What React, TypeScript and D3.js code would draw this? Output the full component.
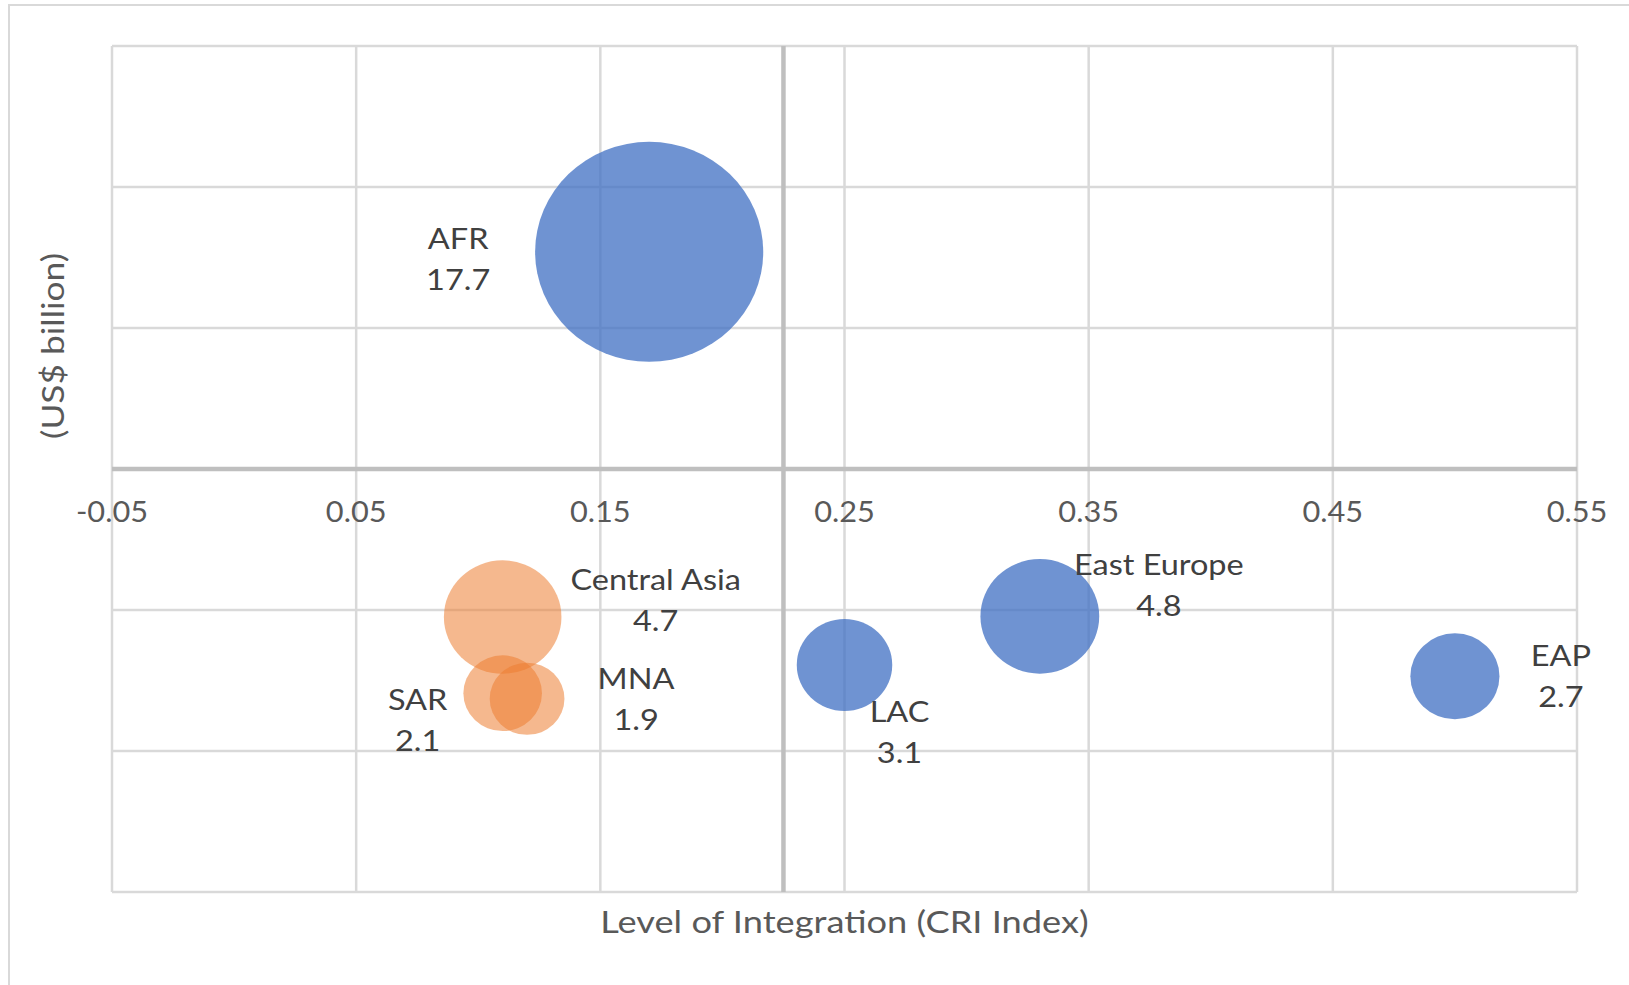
import React from "react";
import * as d3 from "d3";

// ---- data ----
const regions = ["AFR", "Central Asia", "SAR", "MNA", "LAC", "East Europe", "EAP"];
const criIndex = [0.17, 0.11, 0.11, 0.12, 0.25, 0.33, 0.5];
const yValues = [1.54, -1.05, -1.59, -1.63, -1.39, -1.045, -1.47];
const volumes = [17.7, 4.7, 2.1, 1.9, 3.1, 4.8, 2.7];
const groups = ["blue", "orange", "orange", "orange", "blue", "blue", "blue"];
const xTicks = [-0.05, 0.05, 0.15, 0.25, 0.35, 0.45, 0.55];
const yGrid = [-3, -2, -1, 0, 1, 2, 3];
const xTitle = "Level of Integration (CRI Index)";
const yTitle = "(US$ billion)";

// label offsets (px, relative to bubble centre): [dx, dy first line]
const labelOffsets: [number, number][] = [
  [-191, -14],
  [153, -38],
  [-85, 6],
  [109, -21],
  [55, 46],
  [119, -52],
  [106, -21],
];

const W = 1629;
const H = 985;
const plot = { left: 112, right: 1577, top: 46, bottom: 892 };
const yAxisCross = 0.225;

const colors: Record<string, { fill: string; op: number }> = {
  blue: { fill: "#4472C4", op: 0.77 },
  orange: { fill: "#ED7D31", op: 0.55 },
};

const font = "Lato, 'Open Sans', sans-serif";

function SText({
  x,
  y,
  sx,
  size,
  fill,
  rotate = 0,
  children,
}: {
  x: number;
  y: number;
  sx: number;
  size: number;
  fill: string;
  rotate?: number;
  children: React.ReactNode;
}) {
  return (
    <text
      transform={`translate(${x},${y}) rotate(${rotate}) scale(${sx},1)`}
      textAnchor="middle"
      dominantBaseline="central"
      fontSize={size}
      fill={fill}
    >
      {children}
    </text>
  );
}

export default function App() {
  const x = d3.scaleLinear().domain([-0.05, 0.55]).range([plot.left, plot.right]);
  const y = d3.scaleLinear().domain([-3, 3]).range([plot.bottom, plot.top]);
  const r = d3.scaleSqrt().domain([0, 17.7]).range([0, 110]);
  const aspect = 1.037;
  const lineGap = 41;

  return (
    <svg
      width={W}
      height={H}
      style={{ position: "absolute", left: 0, top: 0, background: "#fff" }}
      fontFamily={font}
    >
      <rect x={0} y={0} width={W} height={H} fill="#fff" />
      {/* outer chart border */}
      <rect x={9} y={5} width={W + 20} height={H + 20} fill="none" stroke="#D9D9D9" strokeWidth={2} />

      {/* gridlines */}
      {xTicks.map((t) => (
        <line key={"gx" + t} x1={x(t)} x2={x(t)} y1={plot.top} y2={plot.bottom} stroke="#D9D9D9" strokeWidth={2.5} />
      ))}
      {yGrid.map((t) => (
        <line key={"gy" + t} x1={plot.left} x2={plot.right} y1={y(t)} y2={y(t)} stroke="#D9D9D9" strokeWidth={2.5} />
      ))}

      {/* axes */}
      <line x1={plot.left} x2={plot.right} y1={y(0)} y2={y(0)} stroke="#BFBFBF" strokeWidth={4.5} />
      <line x1={x(yAxisCross)} x2={x(yAxisCross)} y1={plot.top} y2={plot.bottom} stroke="#BFBFBF" strokeWidth={4.5} />

      {/* tick labels */}
      {xTicks.map((t) => (
        <SText key={"tx" + t} x={x(t)} y={y(0) + 42} sx={1.06} size={29} fill="#595959">
          {d3.format(".2f")(t).replace("−", "-")}
        </SText>
      ))}

      {/* bubbles */}
      {regions.map((name, i) => {
        const c = colors[groups[i]];
        const rr = r(volumes[i]);
        return (
          <ellipse
            key={"b" + name}
            cx={x(criIndex[i])}
            cy={y(yValues[i])}
            rx={rr * aspect}
            ry={rr}
            fill={c.fill}
            fillOpacity={c.op}
          />
        );
      })}

      {/* data labels */}
      {regions.map((name, i) => {
        const cx = x(criIndex[i]) + labelOffsets[i][0];
        const cy = y(yValues[i]) + labelOffsets[i][1];
        return (
          <g key={"l" + name}>
            <SText x={cx} y={cy} sx={1.16} size={28} fill="#404040">{name}</SText>
            <SText x={cx} y={cy + lineGap} sx={1.16} size={28} fill="#404040">
              {volumes[i].toFixed(1)}
            </SText>
          </g>
        );
      })}

      {/* axis titles */}
      <SText x={(plot.left + plot.right) / 2} y={921} sx={1.15} size={31.5} fill="#595959">
        {xTitle}
      </SText>
      <SText x={52} y={346} sx={1.14} size={31} fill="#595959" rotate={-90}>
        {yTitle}
      </SText>
    </svg>
  );
}
